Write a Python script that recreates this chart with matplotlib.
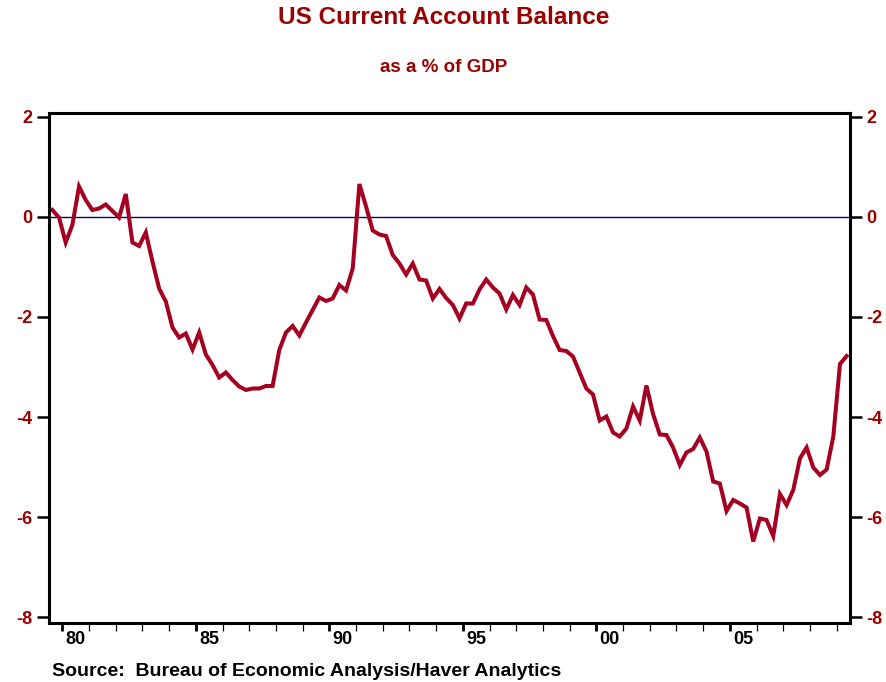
import numpy as np
import matplotlib
matplotlib.use("Agg")
import matplotlib.pyplot as plt
import matplotlib.transforms as mtransforms

plt.rcParams['font.family'] = ['Liberation Sans', 'DejaVu Sans']

# quarterly current account balance, % of GDP, 1979Q3 .. 2009Q2
start_year = 1979
start_quarter = 3
balance = [
    0.14, -0.01,
    -0.51, -0.16, 0.61, 0.34,
    0.14, 0.17, 0.25, 0.12,
    -0.01, 0.46, -0.51, -0.58,
    -0.31, -0.89, -1.43, -1.69,
    -2.21, -2.41, -2.33, -2.65,
    -2.31, -2.75, -2.96, -3.21,
    -3.11, -3.26, -3.39, -3.46,
    -3.43, -3.43, -3.38, -3.38,
    -2.66, -2.31, -2.18, -2.37,
    -2.11, -1.86, -1.61, -1.68,
    -1.63, -1.36, -1.47, -1.03,
    0.66, 0.21, -0.27, -0.35,
    -0.38, -0.76, -0.93, -1.15,
    -0.93, -1.25, -1.27, -1.63,
    -1.44, -1.62, -1.76, -2.03,
    -1.73, -1.73, -1.45, -1.25,
    -1.41, -1.53, -1.85, -1.56,
    -1.76, -1.41, -1.55, -2.05,
    -2.06, -2.38, -2.66, -2.68,
    -2.79, -3.11, -3.43, -3.55,
    -4.07, -3.99, -4.31, -4.39,
    -4.23, -3.79, -4.07, -3.37,
    -3.94, -4.35, -4.36, -4.61,
    -4.96, -4.71, -4.64, -4.41,
    -4.69, -5.29, -5.33, -5.88,
    -5.66, -5.73, -5.81, -6.49,
    -6.03, -6.06, -6.38, -5.54,
    -5.76, -5.46, -4.83, -4.61,
    -5.01, -5.16, -5.05, -4.39,
    -2.94, -2.78,
]

year_labels = ["80", "85", "90", "95", "00", "05"]
label_years = [1980, 1985, 1990, 1995, 2000, 2005]
y_ticks = [2, 0, -2, -4, -6, -8]

red = '#A50021'
dark_red = '#990000'

# place each quarter at its midpoint
q_index = np.arange(len(balance)) + (start_quarter - 1)
x = start_year + (q_index + 0.5) / 4.0

fig = plt.figure(figsize=(8.87, 6.82), dpi=100)
ax = fig.add_axes([49 / 887, 59 / 682, 801 / 887, 510 / 682])

ax.axhline(0, color='#000080', lw=1.0, zorder=1)
ax.plot(x, balance, color=red, lw=2.9, solid_joinstyle='miter', zorder=2)

ax.set_xlim(1979.5, 2009.5)
ax.set_ylim(-8.12, 2.08)

for side in ['left', 'right', 'top', 'bottom']:
    ax.spines[side].set_linewidth(2.2)
    ax.spines[side].set_color('black')

# y axis: ticks and labels on both sides
ax.set_yticks(y_ticks)
ax.set_yticklabels([str(v) for v in y_ticks])
ax.tick_params(axis='y', which='major', left=True, right=True,
               labelleft=True, labelright=True, direction='out',
               length=8.5, width=1.8, pad=3.5, labelsize=13,
               labelcolor=dark_red)
for t in ax.yaxis.get_major_ticks():
    t.label1.set_fontweight('bold')
    t.label2.set_fontweight('bold')

# x axis: heavier ticks every five years, light ticks every year
ax.set_xticks(label_years)
ax.set_xticklabels([])
ax.set_xticks(np.arange(1980, 2010), minor=True)
ax.tick_params(axis='x', which='major', direction='out', length=6,
               width=2.0, pad=2)
ax.tick_params(axis='x', which='minor', direction='out', length=6,
               width=0.9)

trans = mtransforms.blended_transform_factory(ax.transData, ax.transAxes)
for yr, lab in zip(label_years, year_labels):
    ax.text(yr + 0.5, -0.032, lab, transform=trans, ha='center', va='center',
            fontsize=13, fontweight='bold', color='black')

fig.text(0.5, 1 - 18 / 682, 'US Current Account Balance', ha='center',
         va='center', fontsize=17.5, fontweight='bold', color=dark_red)
fig.text(0.5, 1 - 68 / 682, 'as a % of GDP', ha='center', va='center',
         fontsize=13.5, fontweight='bold', color=dark_red)
fig.text(52 / 887, 1 - 671 / 682,
         'Source:  Bureau of Economic Analysis/Haver Analytics',
         ha='left', va='center', fontsize=14, fontweight='bold',
         color='black')

fig.savefig('out.png', dpi=100)
